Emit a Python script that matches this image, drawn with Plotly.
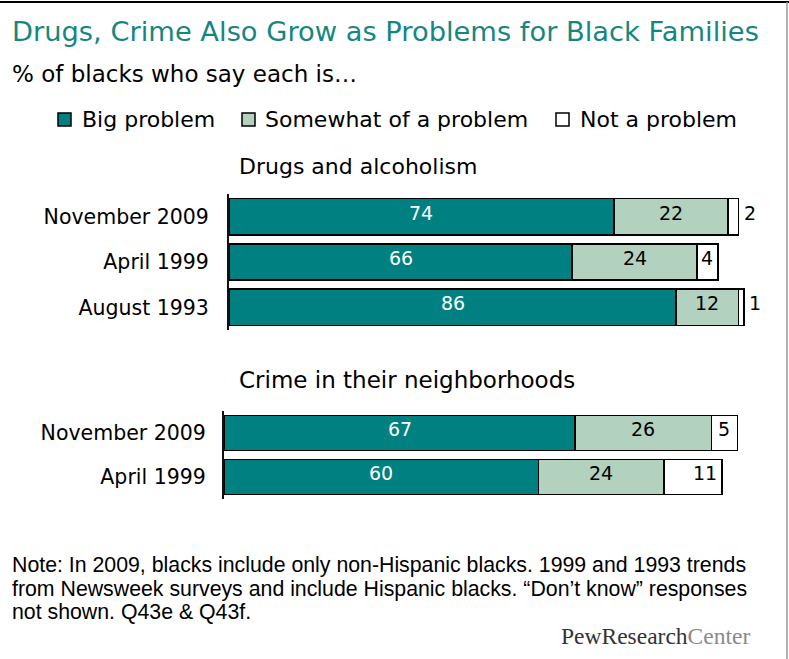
import plotly.graph_objects as go

# ---- data ----
drug_periods = ["November 2009", "April 1999", "August 1993"]
drug_big = [74, 66, 86]
drug_some = [22, 24, 12]
drug_not = [2, 4, 1]

crime_periods = ["November 2009", "April 1999"]
crime_big = [67, 60]
crime_some = [26, 24]
crime_not = [5, 11]

series_names = ["Big problem", "Somewhat of a problem", "Not a problem"]
series_colors = ["#008080", "#B3D1BF", "#FFFFFF"]
label_colors = ["#FFFFFF", "#000000", "#000000"]

W, H = 789, 659
SANS = "DejaVu Sans, Verdana, sans-serif"
NARROW = "Liberation Sans Narrow, Liberation Sans, Arial, sans-serif"


def px(x):
    return x / W


def py(y):
    return 1 - y / H


fig = go.Figure()
annotations = []


def add_panel(periods, groups, xa, ya):
    for name, vals, col in zip(series_names, groups, series_colors):
        fig.add_trace(go.Bar(
            y=periods, x=vals, name=name, orientation="h",
            marker=dict(color=col, line=dict(color="#000000", width=1.5)),
            xaxis=xa, yaxis=ya, showlegend=False, hoverinfo="x+y",
        ))
    for i, period in enumerate(periods):
        start = 0
        for k, vals in enumerate(groups):
            v = vals[i]
            end = start + v
            if k < 2:
                ann = dict(x=(start + end) / 2, xanchor="center")
            elif v <= 2:
                ann = dict(x=end, xanchor="left", xshift=3)
            elif v >= 10:
                ann = dict(x=end, xanchor="right", xshift=-3)
            else:
                ann = dict(x=(start + end) / 2, xanchor="center")
            ann.update(y=period, xref=xa, yref=ya, text=str(v), showarrow=False,
                       yanchor="middle", yshift=4,
                       font=dict(family=SANS, size=19, color=label_colors[k]))
            annotations.append(ann)
            start = end


add_panel(drug_periods, [drug_big, drug_some, drug_not], "x", "y")
add_panel(crime_periods, [crime_big, crime_some, crime_not], "x2", "y2")

axis_y = dict(type="category", autorange="reversed", showgrid=False, zeroline=False,
              showline=True, linecolor="#111111", linewidth=2, ticks="",
              tickfont=dict(family=SANS, size=20.5, color="#000000"))
axis_x = dict(range=[0, 100], visible=False, fixedrange=True)

fig.update_layout(
    width=W, height=H,
    margin=dict(l=0, r=0, t=0, b=0),
    paper_bgcolor="#FFFFFF", plot_bgcolor="rgba(0,0,0,0)",
    barmode="stack", bargap=0.2,
    showlegend=False,
    xaxis=dict(axis_x, domain=[px(229), px(749)], anchor="y"),
    yaxis=dict(axis_y, domain=[py(330), py(194)], anchor="x", ticklabelstandoff=14,
               categoryorder="array", categoryarray=drug_periods),
    xaxis2=dict(axis_x, domain=[px(224), px(748)], anchor="y2"),
    yaxis2=dict(axis_y, domain=[py(499), py(411)], anchor="x2", ticklabelstandoff=12,
                categoryorder="array", categoryarray=crime_periods),
)

# headings
annotations.append(dict(x=px(10), y=py(32), xref="paper", yref="paper", xanchor="left",
                        yanchor="middle", showarrow=False,
                        text="Drugs, Crime Also Grow as Problems for Black Families",
                        font=dict(family=SANS, size=27.3, color="#16877F")))
annotations.append(dict(x=px(10), y=py(74), xref="paper", yref="paper", xanchor="left",
                        yanchor="middle", showarrow=False,
                        text="% of blacks who say each is…",
                        font=dict(family=SANS, size=23, color="#000000")))
annotations.append(dict(x=px(358), y=py(167), xref="paper", yref="paper", xanchor="center",
                        yanchor="middle", showarrow=False, text="Drugs and alcoholism",
                        font=dict(family=SANS, size=22, color="#000000")))
annotations.append(dict(x=px(407), y=py(380), xref="paper", yref="paper", xanchor="center",
                        yanchor="middle", showarrow=False, text="Crime in their neighborhoods",
                        font=dict(family=SANS, size=23, color="#000000")))

# legend
shapes = []
legend_items = [(58, 80), (242, 263), (556, 578)]
for (sx, tx), name, col in zip(legend_items, series_names, series_colors):
    shapes.append(dict(type="rect", xref="paper", yref="paper",
                       x0=px(sx), x1=px(sx + 13), y0=py(126), y1=py(113),
                       fillcolor=col, line=dict(color="#000000", width=1.5)))
    annotations.append(dict(x=px(tx), y=py(119), xref="paper", yref="paper", xanchor="left",
                            yanchor="middle", showarrow=False, text=name,
                            font=dict(family=SANS, size=22, color="#000000")))

# note
note_lines = [
    "Note: In 2009, blacks include only non-Hispanic blacks. 1999 and 1993 trends",
    "from Newsweek surveys and include Hispanic blacks. \u201cDon\u2019t know\u201d responses",
    "not shown. Q43e & Q43f.",
]
for i, line in enumerate(note_lines):
    annotations.append(dict(x=px(10), y=py(565 + 23.5 * i), xref="paper", yref="paper",
                            xanchor="left", yanchor="middle", showarrow=False, text=line,
                            font=dict(family=NARROW, size=21.3, color="#000000")))

annotations.append(dict(x=px(752), y=py(636), xref="paper", yref="paper", xanchor="right",
                        yanchor="middle", showarrow=False,
                        text="<span style='color:#333333'>PewResearch</span>"
                             "<span style='color:#8A8A8A'>Center</span>",
                        font=dict(family="Liberation Serif, DejaVu Serif, serif", size=23.5)))

# frame
shapes.append(dict(type="line", xref="paper", yref="paper", x0=0, x1=1, y0=py(2), y1=py(2),
                   line=dict(color="#000000", width=2)))
shapes.append(dict(type="line", xref="paper", yref="paper", x0=px(787), x1=px(787),
                   y0=py(2), y1=0, line=dict(color="#9A9A9A", width=1.5)))

fig.update_layout(annotations=annotations, shapes=shapes)
fig.write_html("out.html")
